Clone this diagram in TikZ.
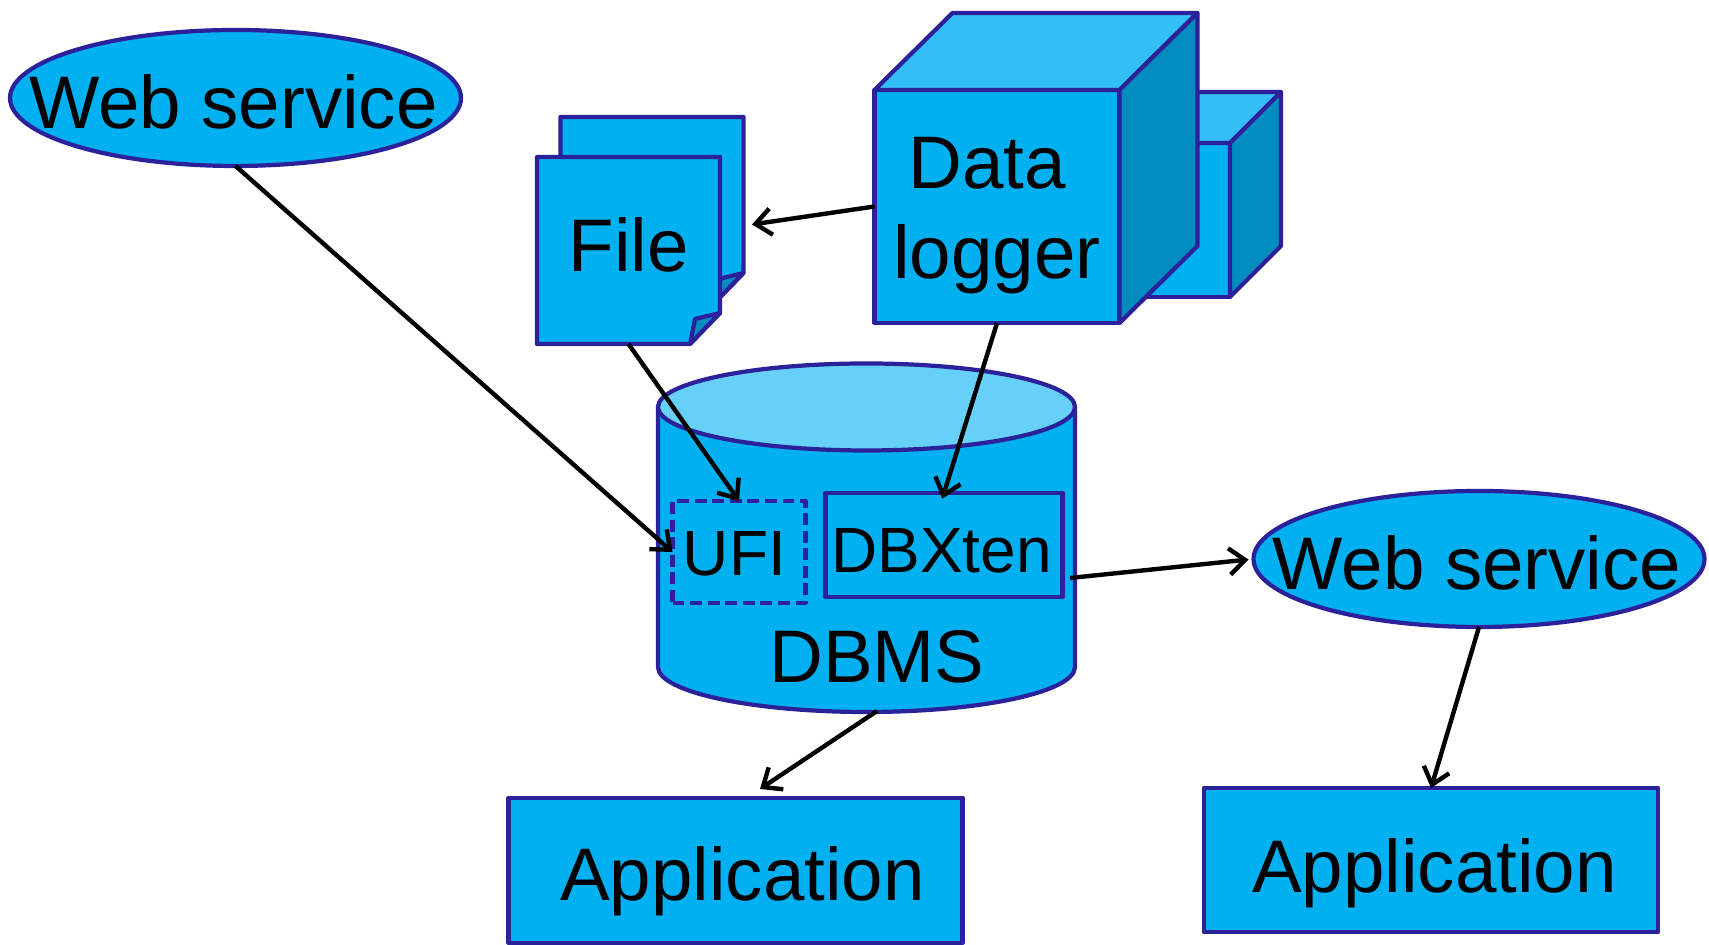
\documentclass[tikz,border=0pt]{standalone}
\usepackage{fontspec}
\setmainfont{Liberation Sans}
\usetikzlibrary{shapes.geometric, arrows.meta}

\definecolor{boxfill}{HTML}{00B0F0}
\definecolor{topfill}{HTML}{33BFF6}
\definecolor{sidefill}{HTML}{008CBE}
\definecolor{dbtop}{HTML}{66D0F8}
\definecolor{edge}{HTML}{2A219B}

\tikzset{
  shape line/.style={draw=edge, line width=1.2pt, line join=round},
  big/.style={font=\fontsize{21.2}{25.6}\selectfont},
  small/.style={font=\fontsize{18.2}{22}\selectfont},
  baseoff/.style={text height=#1, text depth=0pt},
  solid box/.style={shape line, fill=boxfill, rectangle, inner sep=0pt, outer sep=0pt},
  ws/.style={shape line, fill=boxfill, ellipse, big, inner sep=0pt, outer sep=0pt,
    minimum width=4.51cm, minimum height=1.36cm, baseoff=.61cm},
  app/.style={solid box, big, minimum width=4.54cm, minimum height=1.45cm},
  page/.style={rectangle, big, inner sep=0pt, outer sep=0pt,
    minimum width=1.83cm, minimum height=1.87cm},
  conn/.style={black, line width=1.25pt, -{Straight Barb[length=4.5pt,width=7.5pt]}}
}

\begin{document}
\begin{tikzpicture}
  \useasboundingbox (0,0) rectangle (17.09,9.45);

  % web services
  \draw (2.355,8.47) node[ws] (ws1) {\hspace*{-.04cm}\makebox[0pt]{Web service}};
  \draw (14.79,3.86) node[ws] (ws2) {\hspace*{-.04cm}\makebox[0pt]{Web service}};

  % files
  \draw[shape line, fill=boxfill] (5.605,8.28) -- (7.435,8.28) -- (7.435,6.72)
    -- (7.135,6.41) -- (5.605,6.41) -- cycle;
  \draw[shape line, fill=sidefill] (7.135,6.41) -- (7.185,6.66) -- (7.435,6.72) -- cycle;
  \draw[shape line, fill=boxfill] (5.37,7.88) -- (7.20,7.88) -- (7.20,6.32)
    -- (6.90,6.01) -- (5.37,6.01) -- cycle;
  \draw[shape line, fill=sidefill] (6.90,6.01) -- (6.95,6.26) -- (7.20,6.32) -- cycle;
  \draw (6.285,6.945) node[page, baseoff=.43cm] (file) {File};
  \coordinate (fileside) at (7.52,7.205);

  % back cube
  \draw (11.35,7.25) node[solid box, minimum width=1.9cm, minimum height=1.54cm] (dlb) {};
  \draw[shape line, fill=topfill] (dlb.north west) -- ++(.51,.51) -- ++(1.9,0)
    -- (dlb.north east) -- cycle;
  \draw[shape line, fill=sidefill] (dlb.north east) -- ++(.51,.51) -- ++(0,-1.54)
    -- (dlb.south east) -- cycle;

  % front cube
  \draw (9.97,7.385) node[solid box, big, align=center, minimum width=2.45cm,
    minimum height=2.33cm] (dl) {\rule{0pt}{.70cm}Data\hspace*{.2cm}\\logger};
  \draw[shape line, fill=topfill] (dl.north west) -- ++(.78,.77) -- ++(2.45,0)
    -- (dl.north east) -- cycle;
  \draw[shape line, fill=sidefill] (dl.north east) -- ++(.78,.77) -- ++(0,-2.33)
    -- (dl.south east) -- cycle;

  % database
  \draw[shape line, fill=boxfill] (6.58,5.38) -- (6.58,2.78)
    arc[start angle=180, end angle=360, x radius=2.085, y radius=.45] -- (10.75,5.38) -- cycle;
  \draw[shape line, fill=dbtop] (8.665,5.38) ellipse [x radius=2.085, y radius=.435];
  \draw (8.77,2.62) node[big, anchor=base] (dbms) {DBMS};
  \draw (7.39,3.93) node[solid box, fill=none, dash pattern=on 3.4pt off 1.6pt, small,
    minimum width=1.33cm, minimum height=1.02cm, baseoff=.48cm] (ufi) {UFI\hspace*{.09cm}};
  \draw (9.44,4.0) node[solid box, small, minimum width=2.37cm, minimum height=1.04cm,
    baseoff=.56cm] (dbx) {DBXten\hspace*{.05cm}};
  \coordinate (dbmsright) at (10.70,3.67);
  \coordinate (dbmsbot) at (8.77,2.34);

  % applications
  \draw (7.355,.745) node[app, baseoff=.61cm] (app1) {\hspace*{.14cm}Application};
  \draw (14.31,.85) node[app, minimum height=1.44cm, baseoff=.65cm] (app2) {\hspace*{.07cm}Application};
  \coordinate (app1top) at (7.60,1.56);

  % connectors
  \draw[conn] (ws1.south) -- (ufi.west);
  \draw[conn] (file.south) -- (ufi.north);
  \draw[conn] (dl.west) -- (fileside);
  \draw[conn, shorten >=-.06cm] (dl.south) -- (dbx.north);
  \draw[conn, shorten >=.05cm] (dbmsright) -- (ws2.west);
  \draw[conn] (dbmsbot) -- (app1top);
  \draw[conn] (ws2.south) -- (app2.north);
\end{tikzpicture}
\end{document}
